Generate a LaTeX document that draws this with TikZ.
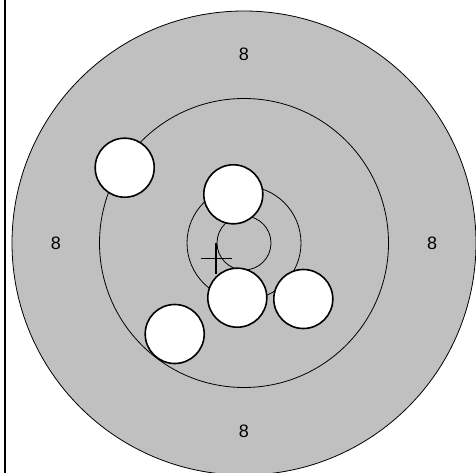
\documentclass[tikz,border=0pt]{standalone}
\usepackage{fontspec}
\setmainfont{Liberation Sans}
\usepackage{xcolor}
\definecolor{ringgray}{HTML}{C0C0C0}

\begin{document}
\begin{tikzpicture}[
    x=1pt,y=-1pt,
    ring/.style={draw=black,line width=0.8pt},
    hole/.style={circle,draw,fill=white,line width=1.6pt,minimum size=59pt,inner sep=0pt},
    score/.style={font=\fontsize{18}{21}\selectfont,inner sep=0pt},
    cross/.style={line width=1.2pt}
]
\useasboundingbox (0,0) rectangle (476,473);
\clip (0,0) rectangle (476,473);
% frame line at the left
\draw[line width=1.5pt] (5,0) -- (5,473);
% target rings
\coordinate (c) at (244,243);
\filldraw[ring,fill=ringgray] (c) circle[radius=232];
\draw[ring] (c) circle[radius=144.5];
\draw[ring] (c) circle[radius=57];
\draw[ring] (c) circle[radius=27];
% scores
\node[score] (top) at (244,54) {8};
\node[score] (left) at (56,243) {8};
\node[score] (right) at (432,243) {8};
\node[score] (bottom) at (244,431) {8};
% aiming mark
\coordinate (aim) at (216,258.5);
\draw[cross] ([xshift=-15.5pt]aim) -- ([xshift=15.5pt]aim);
\draw[cross] ([yshift=15.5pt]aim) -- ([yshift=-15.5pt]aim);
% shots
\node[hole] (shotA) at (124.7,167.7) {};
\node[hole] (shotB) at (233.3,194.3) {};
\node[hole] (shotC) at (237.3,297.7) {};
\node[hole] (shotD) at (303.3,299) {};
\node[hole] (shotE) at (174.7,334) {};
\end{tikzpicture}
\end{document}
